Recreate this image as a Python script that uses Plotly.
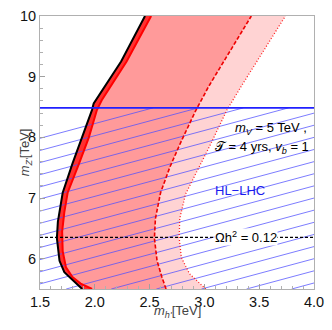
import numpy as np
import plotly.graph_objects as go

# boundary curves (x = m_h' [TeV], y = m_Z' [TeV])
black_x = [1.885, 1.796, 1.722, 1.678, 1.654, 1.663, 1.707, 1.796, 1.885, 1.974, 1.99, 2.24, 2.458]
black_y = [5.5, 5.644, 5.777, 5.965, 6.338, 6.606, 7.087, 7.567, 7.995, 8.449, 8.56, 9.25, 10.0]

red_x = [1.975, 1.871, 1.796, 1.737, 1.707, 1.702, 1.722, 1.752, 1.856, 1.945, 2.019, 2.063, 2.29, 2.514]
red_y = [5.5, 5.59, 5.697, 5.857, 6.125, 6.446, 6.766, 7.087, 7.567, 7.995, 8.449, 8.61, 9.25, 10.0]

dash_x = [2.65, 2.612, 2.568, 2.544, 2.553, 2.60, 2.686, 2.79, 2.923, 3.042, 3.428]
dash_y = [5.5, 5.697, 5.965, 6.338, 6.659, 7.087, 7.514, 7.94, 8.449, 8.849, 10.0]

dot_x = [3.012, 2.864, 2.79, 2.77, 2.775, 2.827, 2.923, 3.057, 3.205, 3.339, 3.739]
dot_y = [5.5, 5.752, 6.018, 6.338, 6.659, 7.06, 7.407, 7.888, 8.449, 8.849, 10.0]

hl_lhc = 8.486
omega_line = 6.35
x_range = [1.5, 4.0]
y_range = [5.5, 10.0]

FONT = 'Liberation Sans, Arial'


def band(xa, ya, xb, yb):
    return list(xa) + list(xb)[::-1], list(ya) + list(yb)[::-1]


fig = go.Figure()

for (xb, yb), col in [((dot_x, dot_y), '#ffd3d3'),
                      ((dash_x, dash_y), '#ff9a9a'),
                      ((red_x, red_y), '#ff3030')]:
    px_, py_ = band(black_x, black_y, xb, yb)
    fig.add_trace(go.Scatter(x=px_, y=py_, fill='toself', fillcolor=col,
                             mode='none', hoverinfo='skip'))

# HL-LHC hatching (decoration, shallow diagonal lines)
slope, step = 0.486, 0.2
hx, hy = [], []
for y0 in np.arange(7.984, y_range[0] - slope * 2.6, -step):
    # line y = y0 + slope*(x-1.5), clipped to [1.5,4] x [5.5, hl_lhc]
    xa = max(x_range[0], 1.5 + (y_range[0] - y0) / slope)
    xb = min(x_range[1], 1.5 + (hl_lhc - y0) / slope)
    if xb > xa:
        hx += [xa, xb, None]
        hy += [y0 + slope * (xa - 1.5), y0 + slope * (xb - 1.5), None]
fig.add_trace(go.Scatter(x=hx, y=hy, mode='lines',
                         line=dict(color='rgba(80,80,255,0.75)', width=1),
                         hoverinfo='skip'))

fig.add_trace(go.Scatter(x=dot_x, y=dot_y, mode='lines',
                         line=dict(color='#ff2020', width=1.3, dash='1px,2px')))
fig.add_trace(go.Scatter(x=dash_x, y=dash_y, mode='lines',
                         line=dict(color='#ee0000', width=1.6, dash='4px,2px')))
fig.add_trace(go.Scatter(x=red_x, y=red_y, mode='lines',
                         line=dict(color='#ff0000', width=2)))
fig.add_trace(go.Scatter(x=black_x, y=black_y, mode='lines',
                         line=dict(color='black', width=2)))

fig.add_trace(go.Scatter(x=x_range, y=[hl_lhc, hl_lhc], mode='lines',
                         line=dict(color='#2020ff', width=1.6)))
fig.add_trace(go.Scatter(x=x_range, y=[omega_line, omega_line], mode='lines',
                         line=dict(color='black', width=1.2, dash='3px,2px')))

txt = dict(family=FONT, size=13, color='black')
fig.add_annotation(x=3.383, y=omega_line, text='Ωh<sup>2</sup> = 0.12', showarrow=False,
                   bgcolor='white', font=txt, borderpad=0)
fig.add_annotation(x=3.95, y=8.15, text='<i>m</i><sub><i>V</i></sub> = 5 TeV ,',
                   showarrow=False, xanchor='right', font=txt)
fig.add_annotation(x=3.97, y=7.83, text='𝒯 = 4 yrs, <i>v</i><sub><i>b</i></sub> = 1',
                   showarrow=False, xanchor='right', font=txt)
fig.add_annotation(x=3.324, y=7.12, text='HL\u2212LHC', showarrow=False,
                   font=dict(family=FONT, size=13, color='#1a1aee'))

# axis titles as paper annotations for exact placement
title_font = dict(family=FONT, size=13, color='#444')
fig.add_annotation(x=0.5, y=-0.12, xref='paper', yref='paper', showarrow=False,
                   text="<i>m</i><sub><i>h'</i></sub>[TeV]", font=title_font)
fig.add_annotation(x=-0.09, y=0.5, xref='paper', yref='paper', showarrow=False,
                   textangle=-90, text="<i>m</i><sub><i>Z'</i></sub>[TeV]", font=title_font)

axis_common = dict(showgrid=False, zeroline=False, showline=True, mirror=True,
                   linecolor='#b0b0b0', linewidth=1, ticks='inside', ticklen=5,
                   tickcolor='#a0a0a0',
                   tickfont=dict(family=FONT, size=14.5, color='#111'))

fig.update_xaxes(range=x_range, dtick=0.5, tickformat='.1f',
                 minor=dict(dtick=0.1, ticks='inside', ticklen=3, tickcolor='#b0b0b0'),
                 **axis_common)
fig.update_yaxes(range=y_range, dtick=1,
                 minor=dict(dtick=0.2, ticks='inside', ticklen=3, tickcolor='#b0b0b0'),
                 **axis_common)

fig.update_layout(width=332, height=330, showlegend=False,
                  margin=dict(l=40, r=13, t=8, b=41),
                  plot_bgcolor='white', paper_bgcolor='white')

fig.write_html("out.html", config={'displayModeBar': False},
               post_script="document.body.style.margin='0';")
